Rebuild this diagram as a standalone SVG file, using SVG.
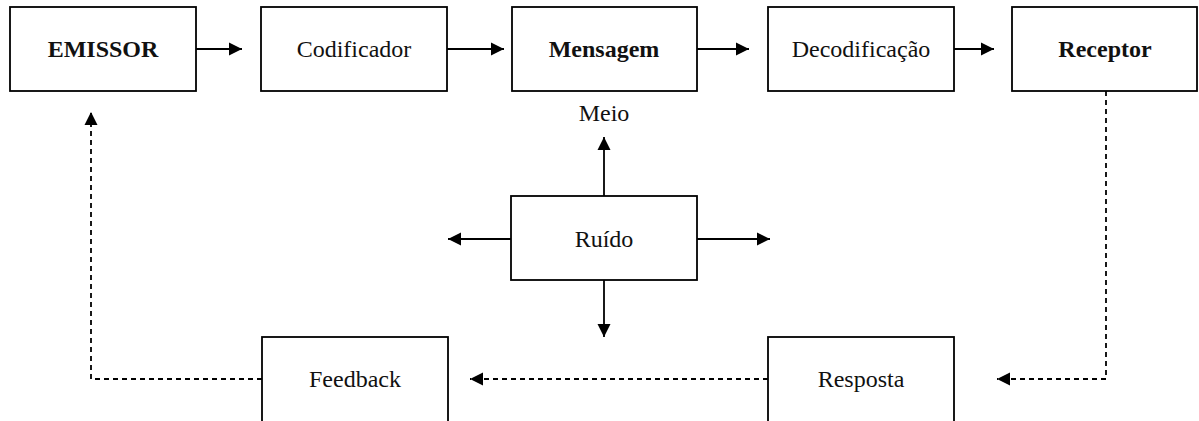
<svg xmlns="http://www.w3.org/2000/svg" width="1199" height="421" viewBox="0 0 1199 421">
<style>
.box{fill:#fff;stroke:#000;stroke-width:1.8}
.t{font-family:"Liberation Serif","Times New Roman","DejaVu Serif",serif;font-size:24px;fill:#111;text-anchor:middle}
.b{font-weight:bold}
.c{fill:none;stroke:#000;stroke-width:1.8}
.d{stroke-dasharray:5,4}
</style>
<defs>
<marker id="ah" markerUnits="userSpaceOnUse" markerWidth="15" markerHeight="14" refX="13" refY="7" orient="auto">
<path d="M0,0.5 L13,7 L0,13.5 z" fill="#000"/>
</marker>
</defs>
<rect width="1199" height="421" fill="#fff"/>
<g id="connectors">
<line class="c" x1="196" y1="49" x2="242" y2="49" marker-end="url(#ah)"/>
<line class="c" x1="447" y1="49" x2="504" y2="49" marker-end="url(#ah)"/>
<line class="c" x1="697" y1="49" x2="749" y2="49" marker-end="url(#ah)"/>
<line class="c" x1="954" y1="49" x2="994" y2="49" marker-end="url(#ah)"/>
<line class="c" x1="604" y1="196" x2="604" y2="137" marker-end="url(#ah)"/>
<line class="c" x1="604" y1="280" x2="604" y2="337" marker-end="url(#ah)"/>
<line class="c" x1="511" y1="239" x2="448" y2="239" marker-end="url(#ah)"/>
<line class="c" x1="697" y1="239" x2="770" y2="239" marker-end="url(#ah)"/>
<polyline class="c d" points="1106,91 1106,379 997,379" marker-end="url(#ah)"/>
<line class="c d" x1="768" y1="379" x2="470" y2="379" marker-end="url(#ah)"/>
<polyline class="c d" points="262,379 91,379 91,112" marker-end="url(#ah)"/>
</g>
<g id="emissor"><rect class="box" x="10" y="7" width="186" height="84"/><text class="t b" x="103" y="57" font-family="Liberation Serif, serif">EMISSOR</text></g>
<g id="codificador"><rect class="box" x="261" y="7" width="186" height="84"/><text class="t" x="354" y="57">Codificador</text></g>
<g id="mensagem"><rect class="box" x="512" y="7" width="185" height="84"/><text class="t b" x="604" y="57">Mensagem</text></g>
<g id="decodificacao"><rect class="box" x="768" y="7" width="186" height="84"/><text class="t" x="861" y="57">Decodificação</text></g>
<g id="receptor"><rect class="box" x="1012" y="7" width="185" height="84"/><text class="t b" x="1105" y="57">Receptor</text></g>
<g id="meio"><text class="t" x="604" y="121">Meio</text></g>
<g id="ruido"><rect class="box" x="511" y="196" width="186" height="84"/><text class="t" x="604" y="247">Ruído</text></g>
<g id="feedback"><rect class="box" x="262" y="337" width="186" height="90"/><text class="t" x="355" y="387">Feedback</text></g>
<g id="resposta"><rect class="box" x="768" y="337" width="186" height="90"/><text class="t" x="861" y="387">Resposta</text></g>
</svg>
